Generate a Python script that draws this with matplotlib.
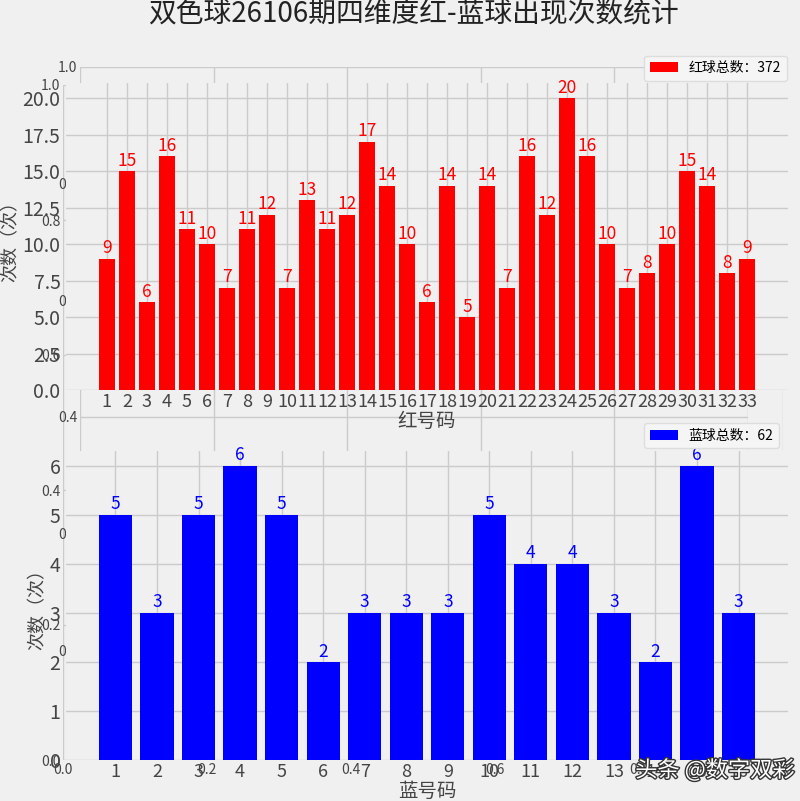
import matplotlib
matplotlib.use('Agg')
import matplotlib.pyplot as plt
import matplotlib.patheffects as pe
from matplotlib.ticker import MultipleLocator, FormatStrFormatter

plt.rcParams['font.family'] = ['Noto Sans CJK SC', 'DejaVu Sans']
plt.rcParams['axes.unicode_minus'] = False

period = '26106'
red_nums = list(range(1, 34))
red_counts = [9, 15, 6, 16, 11, 10, 7, 11, 12, 7, 13, 11, 12, 17, 14, 10, 6,
              14, 5, 14, 7, 16, 12, 20, 16, 10, 7, 8, 10, 15, 14, 8, 9]
blue_nums = list(range(1, 17))
blue_counts = [5, 3, 5, 6, 5, 2, 3, 3, 3, 5, 4, 4, 3, 2, 6, 3]

bg = '#f0f0f0'
grid_c = '#cbcbcb'
txt_c = '#444444'
W, H = 800, 801

fig = plt.figure(figsize=(8, 8.01), dpi=100, facecolor=bg)


def box(l, t, r, b):
    # pixel box -> figure fraction rect
    return [l / W, 1 - b / H, (r - l) / W, (b - t) / H]


def plain(ax):
    for s in ax.spines.values():
        s.set_visible(False)
    ax.set_facecolor(bg)
    ax.grid(True, color=grid_c, lw=1)
    ax.set_axisbelow(True)


# leftover empty axes behind the charts
for rect in [box(63, 85, 783, 760), box(80, 67, 748, 650)]:
    g = fig.add_axes(rect)
    plain(g)
    g.tick_params(length=0, labelsize=10, colors=txt_c, pad=2)

ax1 = fig.add_axes(box(66, 83.4, 788, 390))
ax2 = fig.add_axes(box(66, 451, 788, 760))

panels = [
    (ax1, red_nums, red_counts, 'red', '红球总数', '红号码'),
    (ax2, blue_nums, blue_counts, 'blue', '蓝球总数', '蓝号码'),
]
for ax, nums, counts, col, name, xl in panels:
    plain(ax)
    bars = ax.bar(nums, counts, width=0.8, color=col,
                  label=f'{name}：{sum(counts)}')
    ax.bar_label(bars, color=col, fontsize=12.5, padding=1)
    ax.set_xticks(nums)
    ax.tick_params(axis='x', length=0, labelsize=13, colors=txt_c, pad=2)
    ax.tick_params(axis='y', length=0, labelsize=14, colors=txt_c, pad=4)
    ax.set_xlabel(xl, fontsize=14, color=txt_c, labelpad=0)
    ax.set_ylabel('次数（次）', fontsize=13, color=txt_c, labelpad=2)
    ax.legend(loc='lower left', bbox_to_anchor=(0.797, 1.0), borderaxespad=0.2,
              fontsize=10, facecolor='#f5f5f5', edgecolor='#dddddd',
              framealpha=1)

ax1.yaxis.set_major_locator(MultipleLocator(2.5))
ax1.yaxis.set_major_formatter(FormatStrFormatter('%.1f'))

fig.text(413 / W, 1 - 15 / H, f'双色球{period}期四维度红-蓝球出现次数统计',
         fontsize=20, ha='center', va='center', color='#222222')

fig.text(715 / W, 1 - 770 / H, '头条 @数字双彩', fontsize=16, ha='center',
         va='center', color='white',
         path_effects=[pe.withStroke(linewidth=2, foreground='#333333')])

fig.savefig('out.png', dpi=100, facecolor=bg)
